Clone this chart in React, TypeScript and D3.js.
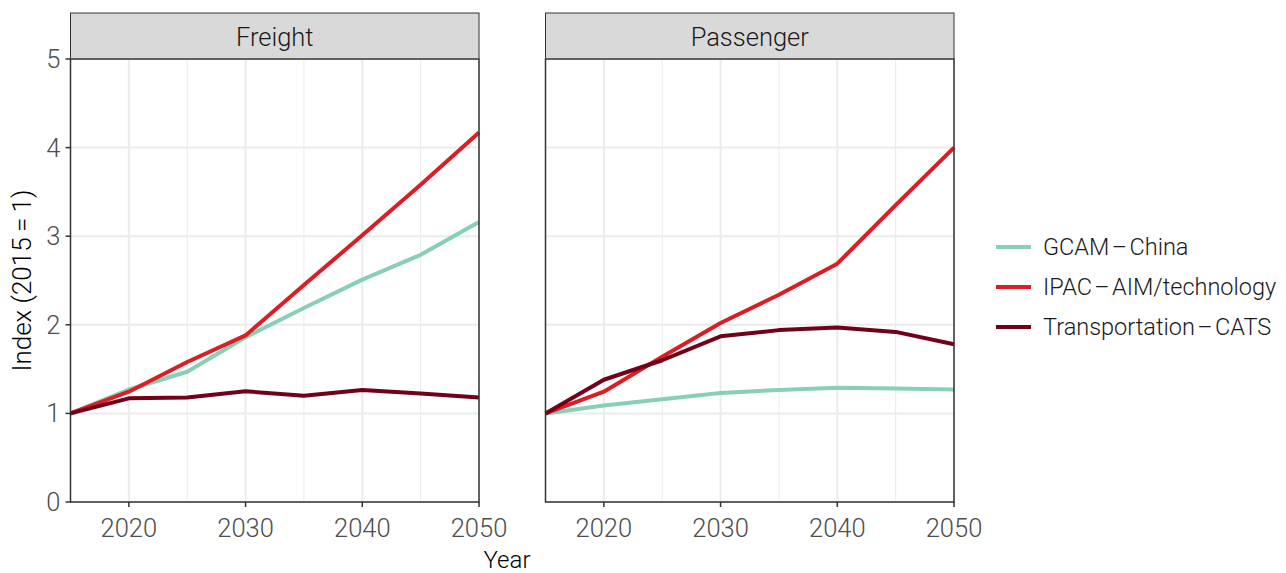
import React from "react";
import * as d3 from "d3";

const years = [2015, 2020, 2025, 2030, 2035, 2040, 2045, 2050];
const panels = ["Freight", "Passenger"];
const seriesNames = ["GCAM\u200a\u2013\u200aChina", "IPAC\u200a\u2013\u200aAIM/technology", "Transportation\u200a\u2013\u200aCATS"];
const seriesColors = ["#88cfb6", "#dc1d24", "#730019"];

const freightGCAM = [1, 1.27, 1.47, 1.86, 2.19, 2.51, 2.79, 3.16];
const freightIPAC = [1, 1.245, 1.58, 1.88, 2.45, 3.01, 3.58, 4.17];
const freightCATS = [1, 1.17, 1.18, 1.25, 1.2, 1.265, 1.225, 1.18];

const passengerGCAM = [1, 1.09, 1.16, 1.23, 1.265, 1.29, 1.28, 1.27];
const passengerIPAC = [1, 1.245, 1.64, 2.02, 2.34, 2.69, 3.35, 4.0];
const passengerCATS = [1, 1.38, 1.6, 1.87, 1.94, 1.97, 1.92, 1.78];

const xTicks = [2020, 2030, 2040, 2050];
const xMinor = [2025, 2035, 2045];
const yTicks = [0, 1, 2, 3, 4, 5];

const panelData = [
  [freightGCAM, freightIPAC, freightCATS],
  [passengerGCAM, passengerIPAC, passengerCATS],
];

const FONT = "Roboto, 'Noto Sans', sans-serif";

export default function App() {
  const W = 1286, H = 573;
  const top = 59, bottom = 502;
  const panelX = [[70.5, 479], [545.5, 954]];
  const y = d3.scaleLinear().domain([0, 5]).range([bottom, top]);

  return (
    <svg width={W} height={H} style={{ position: "absolute", left: 0, top: 0, background: "#fff" }}>
      {panels.map((name, pi) => {
        const [x0, x1] = panelX[pi];
        const x = d3.scaleLinear().domain([2015, 2050]).range([x0, x1]);
        const line = d3.line<number>().x((_, i) => x(years[i])).y((v) => y(v));
        return (
          <g key={name}>
            <rect x={x0} y={13} width={x1 - x0} height={top - 13} fill="#d9d9d9" stroke="#333" strokeWidth={1} />
            <text x={(x0 + x1) / 2} y={37} textAnchor="middle" dominantBaseline="central" fontFamily={FONT} fontWeight={300} fontSize={25.5} fill="#1a1a1a">{name}</text>
            {xMinor.map((t) => (
              <line key={"m" + t} x1={x(t)} x2={x(t)} y1={top} y2={bottom} stroke="#ebebeb" strokeWidth={1} />
            ))}
            {xTicks.map((t) => (
              <line key={"g" + t} x1={x(t)} x2={x(t)} y1={top} y2={bottom} stroke="#ebebeb" strokeWidth={2} />
            ))}
            {yTicks.map((t) => (
              <line key={"y" + t} x1={x0} x2={x1} y1={y(t)} y2={y(t)} stroke="#ebebeb" strokeWidth={2} />
            ))}
            {panelData[pi].map((vals, si) => (
              <path key={si} d={line(vals) || ""} fill="none" stroke={seriesColors[si]} strokeWidth={4} strokeLinejoin="round" />
            ))}
            <rect x={x0} y={top} width={x1 - x0} height={bottom - top} fill="none" stroke="#333" strokeWidth={1.5} />
            {xTicks.map((t) => (
              <g key={"xt" + t}>
                <line x1={x(t)} x2={x(t)} y1={bottom} y2={bottom + 5} stroke="#333" strokeWidth={1.5} />
                <text x={x(t)} y={528} textAnchor="middle" dominantBaseline="central" fontFamily={FONT} fontWeight={300} fontSize={25.5} fill="#4d4d4d">{t}</text>
              </g>
            ))}
            {pi === 0 && yTicks.map((t) => (
              <g key={"yt" + t}>
                <line x1={x0 - 5} x2={x0} y1={y(t)} y2={y(t)} stroke="#333" strokeWidth={1.5} />
                <text x={x0 - 10} y={y(t)} textAnchor="end" dominantBaseline="central" fontFamily={FONT} fontWeight={300} fontSize={25.5} fill="#4d4d4d">{t}</text>
              </g>
            ))}
          </g>
        );
      })}
      <text x={507} y={560} textAnchor="middle" dominantBaseline="central" fontFamily={FONT} fontWeight={300} fontSize={24} fill="#000">Year</text>
      <text transform={`translate(22,${(top + bottom) / 2}) rotate(-90)`} textAnchor="middle" dominantBaseline="central" fontFamily={FONT} fontWeight={300} fontSize={26} fill="#000">Index (2015{"\u2009"}={"\u2009"}1)</text>
      {seriesNames.map((n, i) => (
        <g key={n}>
          <line x1={996} x2={1031} y1={247 + i * 40} y2={247 + i * 40} stroke={seriesColors[i]} strokeWidth={4} />
          <text x={1043} y={247 + i * 40} dominantBaseline="central" fontFamily={FONT} fontWeight={300} fontSize={23.5} fill="#1a1a1a">{n}</text>
        </g>
      ))}
    </svg>
  );
}
